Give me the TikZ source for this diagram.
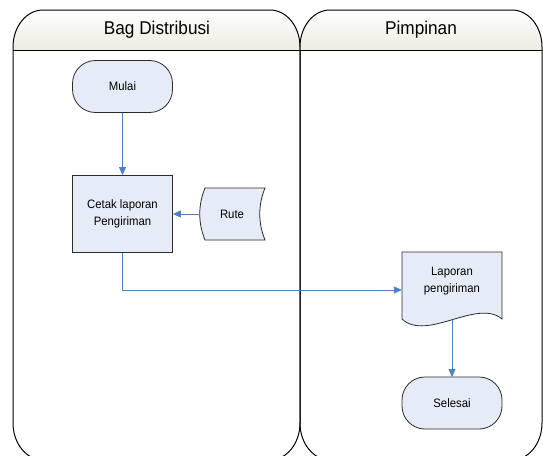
\documentclass[tikz,border=0pt]{standalone}
\usepackage{fontspec}
\setmainfont{Liberation Sans}
\newfontfamily\narrowsans[FakeStretch=0.93]{Liberation Sans}
\usetikzlibrary{arrows.meta,calc}
\definecolor{shapefill}{HTML}{E6ECF7}
\definecolor{headfill}{HTML}{ECECE1}
\definecolor{flowblue}{HTML}{4F81BD}
\definecolor{edgegray}{HTML}{2B2B2B}
\tikzset{
  lane/.style={draw=black,line width=1pt},
  headtext/.style={font=\narrowsans\fontsize{18.5}{21}\selectfont,inner sep=0pt},
  shapetext/.style={font=\narrowsans\fontsize{12.2}{17.5}\selectfont,align=center,inner sep=0pt},
  termbox/.style={draw=edgegray,fill=shapefill,line width=0.8pt,rounded corners=23pt,
    minimum width=100pt,minimum height=52pt,shapetext},
  procbox/.style={draw=edgegray,fill=shapefill,line width=0.8pt,
    minimum width=100pt,minimum height=77pt,shapetext},
  anchorbox/.style={draw=none,inner sep=0pt},
  shapeline/.style={draw=edgegray,fill=shapefill,line width=0.8pt},
  flow/.style={draw=flowblue,line width=0.9pt,-{Triangle[length=8pt,width=7pt]}}
}
\begin{document}
\begin{tikzpicture}[x=1pt,y=-1pt]
\clip (0,0) rectangle (543,455);
\fill[white] (0,0) rectangle (543,455);
% lane 1
\shade[top color=white,bottom color=headfill]
  (13,50) -- (13,47) .. controls (13,26.6) and (26.4,10) .. (43,10) -- (270,10)
  .. controls (286.6,10) and (300,26.6) .. (300,47) -- (300,50) -- cycle;
\draw[lane] (13,47) .. controls (13,26.6) and (26.4,10) .. (43,10) -- (270,10)
  .. controls (286.6,10) and (300,26.6) .. (300,47) -- (300,423)
  .. controls (300,443.4) and (286.6,460) .. (270,460) -- (43,460)
  .. controls (26.4,460) and (13,443.4) .. (13,423) -- cycle;
\draw[lane] (13,50) -- (300,50);
% lane 2
\shade[top color=white,bottom color=headfill]
  (300,50) -- (300,47) .. controls (300,26.6) and (313.4,10) .. (330,10) -- (512,10)
  .. controls (528.6,10) and (542,26.6) .. (542,47) -- (542,50) -- cycle;
\draw[lane] (300,47) .. controls (300,26.6) and (313.4,10) .. (330,10) -- (512,10)
  .. controls (528.6,10) and (542,26.6) .. (542,47) -- (542,423)
  .. controls (542,443.4) and (528.6,460) .. (512,460) -- (330,460)
  .. controls (313.4,460) and (300,443.4) .. (300,423) -- cycle;
\draw[lane] (300,50) -- (542,50);
\node[headtext] (h1) at (157,30) {Bag Distribusi};
\node[headtext] (h2) at (421,30) {Pimpinan};
% shapes
\node[termbox] (mulai) at (122.5,86.5) {Mulai};
\node[procbox] (cetak) at (122.5,214) {Cetak laporan\\Pengiriman};
\draw[shapeline] (205,188) -- (265,188) .. controls (258,205) and (258,223) .. (265,240)
  -- (205,240) .. controls (198,223) and (198,205) .. (205,188) -- cycle;
\node[anchorbox,minimum width=64pt,minimum height=52pt] (rute) at (232,214) {};
\node[shapetext] (rutetxt) at (rute.center) {Rute};
\node[anchorbox,minimum width=100pt,minimum height=68pt] (lap) at (452,286) {};
\draw[flow] (lap.south) -- (452,377);
\draw[shapeline] (402,252) -- (502,252) -- (502,319)
  .. controls (477,298) and (427,342) .. (402,319) -- cycle;
\node[shapetext] (laptxt) at (452,281) {Laporan\\pengiriman};
\node[termbox] (selesai) at (452,403) {Selesai};
% connectors
\draw[flow] (mulai.south) -- (cetak.north);
\draw[flow] (rute.west) -- (cetak.east);
\draw[flow] (cetak.south) |- ([yshift=-4pt]lap.west);
\end{tikzpicture}
\end{document}
